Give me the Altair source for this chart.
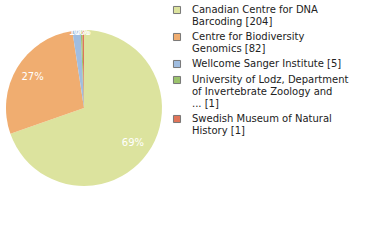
import altair as alt
import pandas as pd

names = [
    "Canadian Centre for DNA|Barcoding [204]",
    "Centre for Biodiversity|Genomics [82]",
    "Wellcome Sanger Institute [5]",
    "University of Lodz, Department|of Invertebrate Zoology and|... [1]",
    "Swedish Museum of Natural|History [1]",
]
counts = [204, 82, 5, 1, 1]
colors = ["#dce39e", "#f0ad70", "#a0bde0", "#9bc36c", "#e07459"]

total = sum(counts)
df = pd.DataFrame({
    "name": names,
    "count": counts,
    "order": list(range(len(names))),
})
pct = [f"{int(c * 100 // total)}%" for c in counts]
big = [c * 100 / total >= 5 for c in counts]
df["pct_big"] = [p if b else "" for p, b in zip(pct, big)]
df["pct_small"] = [p if not b else "" for p, b in zip(pct, big)]

base = alt.Chart(df).encode(
    theta=alt.Theta("count:Q", stack=True),
    order=alt.Order("order:Q"),
    x=alt.value(84),
    y=alt.value(108),
)

pie = base.mark_arc(outerRadius=78, stroke=None).encode(
    color=alt.Color(
        "name:N",
        scale=alt.Scale(domain=names, range=colors),
        sort=names,
        legend=alt.Legend(
            title=None,
            orient="none",
            legendX=172,
            legendY=5,
            symbolType="square",
            symbolSize=50,
            symbolStrokeColor="#777777",
            symbolStrokeWidth=1,
            labelExpr="split(datum.label, '|')",
            labelFont="DejaVu Sans",
            labelFontSize=10,
            labelColor="#222222",
            labelLimit=400,
            labelOffset=10,
            rowPadding=4,
            labelBaseline="middle",
        ),
    )
)

labels_big = base.mark_text(
    radius=60, color="white", font="DejaVu Sans", fontSize=10, align="center", baseline="middle"
).encode(text="pct_big:N")

labels_small = base.mark_text(
    radius=76, color="white", font="DejaVu Sans", fontSize=10, align="center", baseline="middle"
).encode(text="pct_small:N")

chart = (
    alt.layer(pie, labels_big, labels_small)
    .properties(width=380, height=240, autosize=alt.AutoSizeParams(type="none"), padding=0)
    .configure_view(strokeWidth=0)
)

chart.save("out.html", embed_options={"renderer": "svg", "actions": False})
